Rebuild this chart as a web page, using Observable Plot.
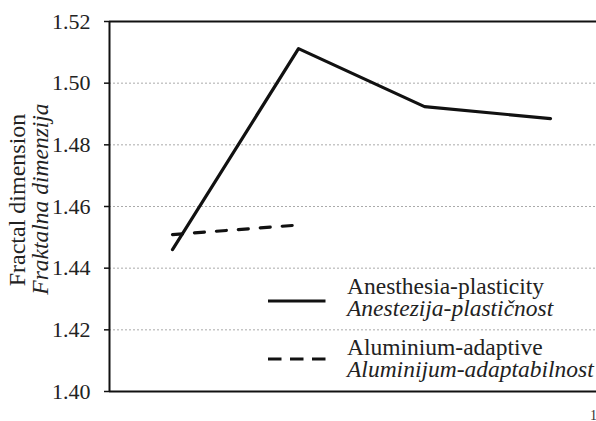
<!DOCTYPE html>
<html><head><meta charset="utf-8">
<script src="https://cdn.jsdelivr.net/npm/d3@7"></script>
<script src="https://cdn.jsdelivr.net/npm/@observablehq/plot@0.6"></script>
<style>
html,body{margin:0;padding:0;background:#fff;}
#wrap{position:relative;width:596px;height:421px;overflow:hidden;font-family:'Liberation Serif','DejaVu Serif',serif;color:#222;}
#over{position:absolute;left:0;top:0;}
#wrap text{font-family:'Liberation Serif','DejaVu Serif',serif;}
</style></head>
<body><div id="wrap"></div>
<script>
const categories = [1, 2, 3, 4];
const anesthesiaValues = [1.446, 1.5112, 1.4924, 1.4885];
const aluminiumCategories = [1, 2];
const aluminiumValues = [1.4509, 1.4540];
const yTicks = [1.40, 1.42, 1.44, 1.46, 1.48, 1.50, 1.52];
const seriesEn = ["Anesthesia-plasticity", "Aluminium-adaptive"];
const seriesSr = ["Anestezija-plastičnost", "Aluminijum-adaptabilnost"];
const yTitleEn = "Fractal dimension";
const yTitleSr = "Fraktalna dimenzija";

const anesData = categories.map((c, i) => ({x: c, y: anesthesiaValues[i]}));
const aluData = aluminiumCategories.map((c, i) => ({x: c, y: aluminiumValues[i]}));

const FF = "'Liberation Serif', 'DejaVu Serif', serif";
const chart = Plot.plot({
  width: 596, height: 421,
  marginLeft: 109, marginTop: 21, marginBottom: 30, marginRight: 0,
  style: {fontFamily: FF, fontSize: "22px", color: "#222", background: "white"},
  x: {domain: [0.5, 4.5], range: [109, 613], axis: null},
  y: {domain: [1.40, 1.52]},
  marks: [
    Plot.gridY(yTicks.slice(1, -1), {stroke: "#aaa", strokeOpacity: 1, strokeDasharray: "2,2", strokeWidth: 1}),
    Plot.axisY(yTicks, {tickSize: 5, tickPadding: 14, tickFormat: d => d.toFixed(2), fontSize: 22, stroke: "#111", strokeWidth: 1.5, label: null, fill: "#222"}),
    Plot.ruleY([1.40, 1.52], {stroke: "#111", strokeWidth: 2}),
    Plot.ruleX([0.5], {stroke: "#111", strokeWidth: 2}),
    Plot.line(anesData, {x: "x", y: "y", stroke: "#111", strokeWidth: 3.2}),
    Plot.line(aluData, {x: "x", y: "y", stroke: "#111", strokeWidth: 3.2, strokeDasharray: "10,12"})
  ]
});
const wrap = document.getElementById("wrap");
wrap.appendChild(chart);

const ns = "http://www.w3.org/2000/svg";
const svg = document.createElementNS(ns, "svg");
svg.setAttribute("id", "over");
svg.setAttribute("width", 596); svg.setAttribute("height", 421);
function txt(s, attrs) {
  const t = document.createElementNS(ns, "text");
  for (const k in attrs) t.setAttribute(k, attrs[k]);
  t.style.fontFamily = FF;
  t.textContent = s;
  svg.appendChild(t);
  return t;
}
function ln(attrs) {
  const l = document.createElementNS(ns, "line");
  for (const k in attrs) l.setAttribute(k, attrs[k]);
  svg.appendChild(l);
}
txt(yTitleEn, {transform: "translate(25,200) rotate(-90)", "text-anchor": "middle", "font-size": 24, fill: "#222"});
txt(yTitleSr, {transform: "translate(48,199) rotate(-90)", "text-anchor": "middle", "font-size": 23.5, "font-style": "italic", fill: "#222"});

ln({x1: 268, x2: 325.5, y1: 301, y2: 301, stroke: "#111", "stroke-width": 3.2});
ln({x1: 268, x2: 325.5, y1: 359, y2: 359, stroke: "#111", "stroke-width": 3.2, "stroke-dasharray": "13.5,8.5"});
txt(seriesEn[0], {x: 347, y: 294, "font-size": 23.5, fill: "#222"});
txt(seriesSr[0], {x: 347, y: 315.5, "font-size": 23.5, "font-style": "italic", fill: "#222"});
txt(seriesEn[1], {x: 347, y: 355, "font-size": 23.5, fill: "#222"});
txt(seriesSr[1], {x: 347, y: 377, "font-size": 23.5, "font-style": "italic", fill: "#222"});
txt("1", {x: 590, y: 420, "font-size": 14, fill: "#333"});
wrap.appendChild(svg);
</script></body></html>
